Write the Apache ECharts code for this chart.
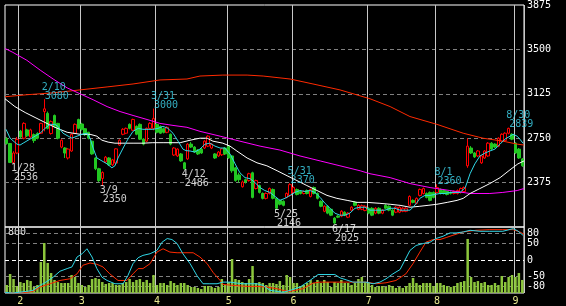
<!DOCTYPE html>
<html><head><meta charset="utf-8">
<script src="https://cdn.jsdelivr.net/npm/echarts@6/dist/echarts.min.js"></script>
<style>html,body{margin:0;padding:0;background:#000;}#c{width:566px;height:306px;}</style>
</head><body><div id="c"></div>
<script>
// ---- data ----
// candles: [open, close, low, high]
const ohlc = [
[2745,2705,2695,2760],[2705,2545,2540,2710],[2545,2625,2536,2640],[2625,2740,2615,2760],[2810,2760,2750,2820],
[2750,2875,2740,2885],[2820,2770,2760,2830],[2760,2820,2750,2830],[2780,2730,2710,2790],[2790,2750,2740,2800],
[2792,2875,2785,2880],[2975,2998,2808,3080],[2960,2833,2825,2975],[2790,2890,2780,2900],[2942,2850,2840,2950],
[2875,2750,2740,2880],[2675,2733,2665,2740],[2667,2625,2583,2675],[2583,2658,2570,2665],[2642,2783,2635,2790],
[2792,2867,2785,2875],[2908,2833,2825,2915],[2870,2825,2815,2880],[2830,2780,2770,2835],[2800,2750,2740,2805],
[2725,2617,2610,2730],[2583,2492,2480,2590],[2492,2392,2380,2500],[2410,2460,2350,2470],[2550,2590,2540,2600],
[2583,2525,2515,2590],[2525,2567,2515,2575],[2540,2660,2530,2665],[2692,2733,2685,2740],[2783,2825,2775,2835],
[2792,2833,2785,2840],[2867,2833,2825,2875],[2817,2908,2810,2915],[2850,2783,2775,2858],[2867,2742,2735,2875],
[2742,2700,2690,2750],[2725,2833,2717,2840],[2833,2875,2825,2885],[2830,2917,2817,3000],[2867,2800,2790,2875],
[2850,2792,2785,2858],[2830,2800,2790,2840],[2800,2842,2792,2850],[2783,2700,2690,2790],[2608,2667,2600,2675],
[2600,2658,2592,2665],[2617,2558,2550,2625],[2542,2492,2486,2550],[2575,2700,2567,2708],[2700,2675,2667,2717],
[2675,2633,2625,2683],[2650,2617,2608,2658],[2658,2625,2617,2667],[2667,2725,2658,2733],[2683,2767,2675,2775],
[2667,2700,2658,2708],[2617,2583,2575,2625],[2600,2633,2592,2642],[2610,2660,2600,2667],[2667,2617,2608,2675],
[2683,2583,2575,2692],[2600,2475,2458,2608],[2500,2392,2383,2508],[2440,2400,2375,2458],[2340,2380,2333,2392],
[2400,2380,2367,2408],[2392,2450,2383,2458],[2458,2250,2242,2467],[2325,2392,2317,2400],[2350,2292,2283,2358],
[2283,2242,2233,2292],[2242,2283,2233,2292],[2283,2325,2275,2333],[2317,2242,2233,2325],[2242,2158,2146,2250],
[2225,2192,2183,2233],[2217,2183,2175,2225],[2250,2283,2242,2292],[2267,2358,2258,2370],[2292,2333,2283,2342],
[2317,2275,2267,2325],[2300,2283,2275,2308],[2283,2300,2275,2308],[2308,2283,2275,2317],[2258,2317,2250,2325],
[2333,2283,2275,2342],[2283,2242,2233,2292],[2217,2175,2167,2225],[2133,2175,2125,2183],[2175,2117,2108,2183],
[2150,2100,2092,2158],[2075,2033,2025,2083],[2092,2083,2075,2100],[2092,2133,2083,2142],[2125,2100,2092,2133],
[2083,2117,2075,2125],[2142,2167,2133,2175],[2208,2183,2175,2217],[2150,2183,2142,2192],[2150,2180,2142,2190],
[2140,2175,2133,2183],[2158,2117,2108,2167],[2158,2100,2092,2167],[2117,2158,2108,2167],[2158,2117,2108,2167],
[2117,2142,2108,2150],[2183,2158,2150,2192],[2175,2142,2133,2183],[2142,2100,2092,2150],[2125,2167,2117,2175],
[2125,2167,2117,2175],[2133,2158,2125,2167],[2133,2158,2125,2167],[2183,2258,2175,2267],[2225,2208,2200,2233],
[2200,2242,2192,2250],[2267,2317,2258,2325],[2283,2325,2275,2333],[2283,2250,2242,2292],[2292,2225,2217,2300],
[2292,2250,2242,2300],[2292,2333,2283,2360],[2317,2283,2275,2325],[2308,2283,2275,2317],[2300,2275,2267,2308],
[2292,2283,2275,2300],[2283,2300,2275,2308],[2283,2308,2275,2317],[2292,2325,2283,2333],[2300,2333,2292,2342],
[2517,2683,2500,2750],[2667,2625,2617,2683],[2625,2592,2583,2633],[2600,2642,2592,2650],[2542,2600,2533,2608],
[2583,2642,2575,2650],[2600,2708,2592,2717],[2708,2658,2650,2717],[2700,2675,2667,2708],[2683,2750,2675,2758],
[2725,2783,2717,2792],[2730,2792,2722,2800],[2792,2833,2783,2839],[2783,2742,2733,2792],[2708,2625,2617,2717],
[2658,2583,2575,2667],[2575,2517,2508,2583]
];
const volume = [
97,230,170,85,133,121,158,145,73,97,376,606,364,242,158,133,121,121,121,218,
194,121,97,73,97,170,182,170,133,109,121,121,97,97,121,133,170,133,158,170,
133,158,121,218,97,121,121,97,145,121,97,121,121,97,73,73,61,48,85,85,
73,61,73,170,97,133,412,170,158,133,121,170,327,121,133,121,97,121,121,109,
145,97,
218,194,121,121,85,97,121,158,121,158,121,158,133,73,133,121,158,121,121,97,
121,170,194,133,121,97,73,85,85,73,97,85,61,73,61,85,121,182,121,97,
121,121,121,85,121,121,97,85,73,85,121,133,145,655,194,133,145,121,133,97,
97,121,97,206,133,194,218,194,242,158
];
// moving averages as [bar position, value]
const ma5 = [[-0.2,2825],[1.0,2750],[3.0,2700],[3.9,2692],[4.8,2708],[6.8,2742],[8.3,2767],[9.8,2792],[11.2,2833],[12.7,2867],[14.1,2867],[15.0,2850],[16.5,2792],[18.0,2767],[19.1,2750],[20.6,2767],[22.1,2783],[23.5,2792],[24.4,2750],[25.3,2667],[26.4,2583],[27.9,2558],[29.4,2533],[30.8,2500],[31.7,2517],[32.6,2583],[34.1,2667],[35.5,2742],[37.0,2808],[38.5,2833],[39.9,2825],[41.4,2825],[42.8,2825],[44.3,2833],[45.8,2850],[47.2,2833],[48.7,2792],[50.2,2725],[51.6,2658],[52.5,2645],[53.7,2642],[55.1,2633],[56.6,2658],[58.1,2700],[59.5,2708],[61.0,2683],[62.5,2667],[63.9,2667],[65.4,2617],[66.9,2533],[68.3,2458],[69.8,2417],[71.3,2408],[72.7,2375],[74.2,2333],[75.6,2308],[77.1,2292],[78.6,2258],[80.0,2225],[81.5,2242],[83.0,2267],[84.4,2292],[85.9,2308],[87.4,2300],[88.8,2308],[90.3,2292],[91.8,2250],[93.2,2200],[94.7,2158],[96.1,2117],[97.6,2100],[99.1,2100],[100.5,2117],[102.0,2158],[103.5,2167],[104.9,2167],[106.4,2142],[107.9,2142],[109.3,2142],[110.8,2142],[112.3,2158],[113.7,2158],[115.2,2142],[116.6,2142],[118.1,2142],[119.0,2167],[120.2,2208],[121.0,2242],[122.5,2267],[124.0,2267],[125.4,2275],[126.9,2283],[128.4,2283],[129.8,2292],[132.8,2292],[134.3,2333],[135.7,2450],[137.1,2533],[138.6,2600],[140.1,2625],[141.5,2642],[143.0,2658],[144.5,2700],[145.9,2742],[147.4,2767],[148.3,2783],[149.5,2767],[150.3,2742],[151.2,2708]];
const ma25 = [[-0.5,3083],[2.4,3017],[5.4,2967],[8.3,2925],[11.2,2883],[14.1,2842],[17.7,2800],[21.5,2783],[24.4,2783],[26.4,2767],[27.9,2733],[29.7,2717],[31.7,2708],[33.8,2708],[37.0,2708],[39.9,2708],[42.8,2712],[45.8,2712],[48.7,2712],[50.8,2712],[53.7,2733],[56.6,2750],[58.7,2750],[60.4,2725],[63.3,2708],[65.4,2683],[67.4,2642],[70.4,2583],[73.3,2542],[76.2,2517],[79.2,2475],[82.1,2433],[85.0,2392],[87.9,2350],[90.9,2308],[93.8,2267],[96.7,2242],[99.7,2225],[102.6,2208],[105.5,2208],[109.3,2200],[112.3,2192],[115.2,2183],[118.1,2167],[121.0,2175],[123.4,2183],[126.0,2192],[129.0,2208],[131.9,2225],[133.7,2242],[135.7,2283],[138.6,2325],[141.5,2367],[144.5,2417],[147.4,2483],[149.7,2533],[151.5,2558]];
const ma75 = [[-0.5,3508],[1.8,3475],[5.9,3408],[9.8,3325],[13.6,3250],[17.7,3175],[21.5,3125],[25.3,3075],[29.4,3017],[33.2,2975],[37.0,2942],[41.1,2908],[44.9,2875],[48.7,2858],[52.8,2842],[56.6,2808],[62.5,2767],[68.3,2725],[74.2,2683],[80.0,2650],[85.9,2600],[91.8,2558],[97.6,2517],[103.5,2475],[106.4,2450],[112.3,2417],[118.1,2367],[124.0,2333],[129.8,2308],[135.7,2283],[141.5,2283],[145.3,2292],[149.5,2308],[151.5,2325]];
const ma200 = [[-0.5,3100],[5.9,3117],[13.6,3133],[21.5,3158],[29.4,3183],[37.0,3208],[44.9,3242],[52.8,3250],[56.6,3275],[63.3,3283],[70.4,3283],[75.1,3275],[83.0,3250],[89.7,3208],[97.6,3158],[106.4,3083],[112.3,3017],[118.1,2933],[126.0,2867],[133.7,2792],[139.5,2750],[145.3,2725],[149.5,2700],[151.5,2692]];
// oscillator lines (-100..100)
const oscCyan = [[-0.5,-98],[1.8,-100],[5.9,-95],[7.7,-92],[9.8,-77],[11.8,-65],[13.6,-52],[15.6,-34],[17.7,-26],[19.1,-21],[20.6,9],[22.1,19],[23.5,34],[25.0,9],[26.4,-26],[27.9,-52],[29.4,-62],[31.7,-72],[34.1,-72],[35.5,-47],[37.0,-11],[38.5,7],[39.9,14],[42.0,19],[44.0,29],[45.5,54],[47.0,65],[48.4,62],[49.9,50],[51.6,19],[53.7,-11],[55.7,-47],[57.5,-72],[59.5,-72],[61.6,-72],[63.3,-67],[65.4,-67],[67.4,-70],[69.2,-72],[73.3,-72],[75.1,-77],[77.1,-92],[79.2,-95],[80.9,-98],[83.0,-92],[85.9,-82],[88.8,-62],[91.2,-44],[93.5,-44],[96.1,-44],[97.6,-54],[99.4,-60],[101.4,-67],[103.5,-67],[105.2,-67],[107.3,-72],[109.3,-67],[111.1,-57],[113.1,-42],[115.2,-29],[116.6,-1],[118.1,29],[119.9,44],[122.0,50],[124.0,54],[125.7,65],[127.8,72],[129.8,82],[131.6,82],[133.7,85],[135.7,90],[138.6,87],[141.5,87],[145.3,87],[148.3,95],[149.7,88],[151.2,75]];
const oscRed = [[-0.5,-98],[3.0,-100],[5.9,-98],[7.7,-95],[9.8,-82],[12.7,-72],[15.6,-62],[18.5,-57],[20.6,-42],[22.3,-16],[24.4,-9],[26.4,-13],[28.2,-21],[30.2,-42],[32.6,-62],[35.2,-62],[37.0,-42],[38.5,-26],[39.9,-26],[42.0,-11],[44.0,24],[45.8,34],[47.8,24],[49.9,22],[51.6,22],[54.6,22],[56.6,9],[58.7,-11],[60.4,-37],[62.5,-62],[63.3,-74],[66.3,-77],[70.4,-80],[73.3,-80],[76.2,-82],[79.2,-87],[80.9,-92],[83.0,-95],[86.8,-87],[89.7,-70],[91.8,-67],[95.6,-67],[100.5,-67],[105.2,-67],[108.2,-72],[111.1,-69],[114.0,-62],[116.9,-42],[119.0,-11],[121.0,24],[122.8,54],[124.8,62],[126.9,62],[128.7,68],[130.7,75],[133.7,85],[137.4,90],[141.5,92],[145.3,92],[148.3,92],[150.3,85],[151.5,78]];
// axis / annotation text
const monthStarts = [4,22,44,65,84,106,126,149];
const monthLabels = ['2','3','4','5','6','7','8','9'];
const oscTicks = [80,50,0,-50,-80];
const highIdx = [11,43,83,126,147];
const highVal = [3080,3000,2370,2360,2839];
const highDate = ['2/10','3/31','5/31','8/1','8/30'];
const lowIdx = [2,28,52,79,96];
const lowVal = [2536,2350,2486,2146,2025];
const lowDate = ['1/28','3/9','4/12','5/25','6/17'];

// ---- chart ----
const N = ohlc.length;
const categories = ohlc.map((d, i) => String(i));
const FONT = 'DejaVu Sans Mono';
const DASH = [4, 3];
const CLEAR = 'rgba(0,0,0,0)';
const isMonth = (i) => monthStarts.indexOf(i) >= 0;
const priceSplit = [CLEAR, '#808080', '#808080', '#808080', '#808080', CLEAR];
const oscSplit = [];
for (let v = -100; v <= 100; v += 10) oscSplit.push(v === 0 ? '#ffffff' : (oscTicks.indexOf(v) >= 0 ? '#808080' : CLEAR));
const vSplit = { show: true, interval: (i) => isMonth(i), lineStyle: { color: '#c8c8c8', width: 1 } };
const txt = (c) => ({ color: c, fontFamily: FONT, fontSize: 10, lineHeight: 9 });

const chart = echarts.init(document.getElementById('c'), null, { renderer: 'canvas' });
chart.setOption({
  backgroundColor: '#000',
  animation: false,
  grid: [
    { left: 5, top: 2, width: 519, height: 225, show: true, borderColor: '#fff', borderWidth: 1, backgroundColor: CLEAR },
    { left: 5, top: 227, width: 519, height: 66, show: true, borderColor: '#fff', borderWidth: 1, backgroundColor: CLEAR }
  ],
  xAxis: [
    { type: 'category', gridIndex: 0, data: categories, boundaryGap: true, axisLine: { show: false }, axisTick: { show: false }, axisLabel: { show: false }, splitLine: vSplit },
    { type: 'category', gridIndex: 1, data: categories, boundaryGap: true, axisLine: { show: false }, axisTick: { show: false },
      axisLabel: { show: true, interval: (i) => isMonth(i), formatter: (v, i) => monthLabels[monthStarts.indexOf(i)], color: '#e8e890', fontFamily: FONT, fontSize: 10, margin: 3 },
      splitLine: vSplit },
    { type: 'value', gridIndex: 0, min: -0.5, max: N - 0.5, show: false },
    { type: 'value', gridIndex: 1, min: -0.5, max: N - 0.5, show: false }
  ],
  yAxis: [
    { type: 'value', gridIndex: 0, position: 'right', min: 2000, max: 3875, interval: 375, axisLine: { show: false }, axisTick: { show: false },
      axisLabel: { showMinLabel: false, formatter: (v) => String(v), color: '#fff', fontFamily: FONT, fontSize: 10, margin: 3, padding: [3, 0, 0, 0] },
      splitLine: { show: true, lineStyle: { color: priceSplit, type: DASH } } },
    { type: 'value', gridIndex: 1, position: 'left', min: 0, max: 800, interval: 800, axisLine: { show: false }, axisTick: { show: false },
      axisLabel: { inside: true, showMinLabel: false, formatter: (v) => String(v), color: '#e0e0e0', fontFamily: FONT, fontSize: 10, margin: 3, verticalAlign: 'top' },
      splitLine: { show: false } },
    { type: 'value', gridIndex: 1, position: 'right', min: -100, max: 100, interval: 10, axisLine: { show: false }, axisTick: { show: false },
      axisLabel: { formatter: (v) => oscTicks.indexOf(v) >= 0 ? String(v) : '', color: '#fff', fontFamily: FONT, fontSize: 10, margin: 3 },
      splitLine: { show: true, lineStyle: { color: oscSplit, type: DASH } } }
  ],
  series: [
    { type: 'bar', xAxisIndex: 1, yAxisIndex: 1, data: volume, barWidth: 2.5, itemStyle: { color: '#8cc63c' }, silent: true },
    { type: 'candlestick', xAxisIndex: 0, yAxisIndex: 0, data: ohlc, barWidth: 3,
      itemStyle: { color: '#000', color0: '#22c822', borderColor: '#ff0000', borderColor0: '#22c822', borderWidth: 1 }, silent: true },
    { type: 'line', xAxisIndex: 2, yAxisIndex: 0, data: ma200, symbol: 'none', lineStyle: { color: '#ff2a00', width: 1 }, silent: true },
    { type: 'line', xAxisIndex: 2, yAxisIndex: 0, data: ma75, symbol: 'none', lineStyle: { color: '#ff00ff', width: 1 }, silent: true },
    { type: 'line', xAxisIndex: 2, yAxisIndex: 0, data: ma25, symbol: 'none', lineStyle: { color: '#ffffff', width: 1 }, silent: true },
    { type: 'line', xAxisIndex: 2, yAxisIndex: 0, data: ma5, symbol: 'none', lineStyle: { color: '#30d8e8', width: 1 }, silent: true },
    { type: 'line', xAxisIndex: 3, yAxisIndex: 2, data: oscRed, symbol: 'none', lineStyle: { color: '#ff2a00', width: 1 }, silent: true },
    { type: 'line', xAxisIndex: 3, yAxisIndex: 2, data: oscCyan, symbol: 'none', lineStyle: { color: '#30d8e8', width: 1 }, silent: true },
    { type: 'scatter', xAxisIndex: 0, yAxisIndex: 0, data: highIdx.map((x, k) => [x, highVal[k]]), symbolSize: 1, itemStyle: { color: CLEAR }, silent: true, z: 10,
      label: { show: true, position: [-2, 2], align: 'left', verticalAlign: 'bottom',
        formatter: (p) => '{d|' + highDate[p.dataIndex] + '}\n{v|' + highVal[p.dataIndex] + '}',
        rich: { d: txt('#40d8f0'), v: Object.assign(txt('#40d8f0'), { padding: [0, 0, 0, 3] }) } } },
    { type: 'scatter', xAxisIndex: 0, yAxisIndex: 0, data: lowIdx.map((x, k) => [x, lowVal[k]]), symbolSize: 1, itemStyle: { color: CLEAR }, silent: true, z: 10,
      label: { show: true, position: [-2, 1], align: 'left', verticalAlign: 'top',
        formatter: (p) => '{d|' + lowDate[p.dataIndex] + '}\n{v|' + lowVal[p.dataIndex] + '}',
        rich: { d: txt('#ffffff'), v: Object.assign(txt('#ffffff'), { padding: [0, 0, 0, 3] }) } } }
  ]
});
</script></body></html>
